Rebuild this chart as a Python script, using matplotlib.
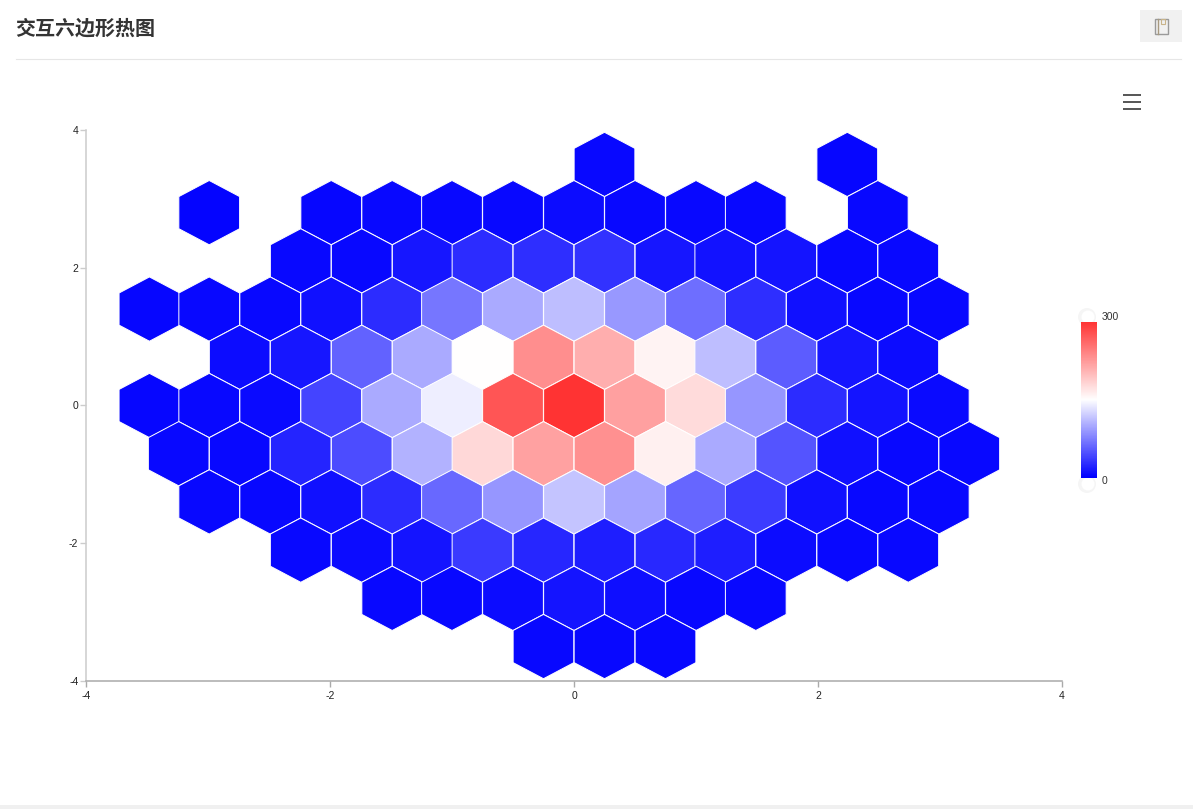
import numpy as np
import matplotlib
matplotlib.use("Agg")
import matplotlib.pyplot as plt
from matplotlib.collections import PolyCollection
from matplotlib.colors import LinearSegmentedColormap, Normalize
from matplotlib.patches import Circle, Rectangle

plt.rcParams['font.family'] = ['Liberation Sans', 'DejaVu Sans']
plt.rcParams['axes.unicode_minus'] = False

W, H = 1193, 809

title = "交互六边形热图"
ticks = [-4, -2, 0, 2, 4]
legend_labels = ["300", "0"]
color_stops = ["#0000ff", "#ffffff", "#ff3333"]
vmin, vmax = 0, 300

# one list per row of the hexagon grid, top to bottom
row_y = [3.5, 2.8, 2.1, 1.4, 0.7, 0.0, -0.7, -1.4, -2.1, -2.8, -3.5]
row_x = [
    [0.25, 2.24],
    [-2.99, -1.99, -1.49, -1, -0.5, 0, 0.5, 1, 1.49, 2.49],
    [-2.24, -1.74, -1.24, -0.75, -0.25, 0.25, 0.75, 1.24, 1.74, 2.24, 2.74],
    [-3.48, -2.99, -2.49, -1.99, -1.49, -1, -0.5, 0, 0.5, 1, 1.49, 1.99, 2.49, 2.99],
    [-2.74, -2.24, -1.74, -1.24, -0.75, -0.25, 0.25, 0.75, 1.24, 1.74, 2.24, 2.74],
    [-3.48, -2.99, -2.49, -1.99, -1.49, -1, -0.5, 0, 0.5, 1, 1.49, 1.99, 2.49, 2.99],
    [-3.24, -2.74, -2.24, -1.74, -1.24, -0.75, -0.25, 0.25, 0.75, 1.24, 1.74, 2.24, 2.74, 3.24],
    [-2.99, -2.49, -1.99, -1.49, -1, -0.5, 0, 0.5, 1, 1.49, 1.99, 2.49, 2.99],
    [-2.24, -1.74, -1.24, -0.75, -0.25, 0.25, 0.75, 1.24, 1.74, 2.24, 2.74],
    [-1.49, -1, -0.5, 0, 0.5, 1, 1.49],
    [-0.25, 0.25, 0.75],
]
row_val = [
    [5, 4],
    [3, 4, 5, 5, 5, 8, 5, 5, 5, 5],
    [5, 5, 14, 26, 28, 30, 13, 11, 12, 5, 5],
    [4, 5, 5, 10, 26, 70, 100, 112, 90, 65, 28, 10, 5, 5],
    [8, 14, 58, 100, 150, 233, 209, 159, 112, 55, 14, 8],
    [4, 5, 6, 40, 100, 140, 275, 300, 220, 176, 88, 26, 12, 6],
    [5, 5, 22, 45, 105, 179, 218, 232, 161, 100, 50, 10, 5, 5],
    [5, 5, 10, 26, 62, 88, 115, 97, 60, 36, 10, 5, 5],
    [5, 8, 12, 34, 23, 18, 24, 18, 8, 5, 5],
    [5, 5, 8, 12, 9, 5, 5],
    [5, 5, 5],
]

cmap = LinearSegmentedColormap.from_list("bwr3", color_stops)
norm = Normalize(vmin, vmax)

fig = plt.figure(figsize=(W / 100, H / 100), dpi=100, facecolor="white")


def px_axes(left, top, right, bottom):
    return fig.add_axes([left / W, 1 - bottom / H, (right - left) / W, (bottom - top) / H])


# page furniture in pixel coordinates
page = fig.add_axes([0, 0, 1, 1])
page.set_xlim(0, W)
page.set_ylim(H, 0)
page.axis("off")
page.text(15.5, 28, title, family=["Noto Sans CJK SC", "DejaVu Sans"], fontsize=14.4,
          fontweight="bold", color="#333333", va="center", ha="left")
page.plot([16, 1181], [58.8, 58.8], color="#e6e6e6", lw=0.8)
page.add_patch(Rectangle((1140, 10), 42, 32, fc="#f1f1f1", ec="none"))
page.add_patch(Rectangle((1154.5, 18.5), 13, 15.5, fc="none", ec="#9a9a9a", lw=1))
page.plot([1158, 1158], [18.5, 34], color="#a89a80", lw=1)
page.add_patch(Rectangle((1160.5, 18.5), 4, 5, fc="none", ec="#c9b48a", lw=0.8))
for y in [95, 102, 109]:
    page.plot([1123, 1141], [y, y], color="#555555", lw=1.4, solid_capstyle="butt")
page.add_patch(Rectangle((0, 805), W, 4, fc="#f0f0f0", ec="none"))

# main chart
ax = px_axes(86, 130, 1062, 681)
ax.patch.set_alpha(0)
ax.set_xlim(-4, 4)
ax.set_ylim(-4, 4)

dx, dy = 0.498, 0.7
verts = []
vals = []
for y, xs, vs in zip(row_y, row_x, row_val):
    for x, v in zip(xs, vs):
        verts.append([(x, y + dy * 2 / 3), (x + dx / 2, y + dy / 3), (x + dx / 2, y - dy / 3),
                      (x, y - dy * 2 / 3), (x - dx / 2, y - dy / 3), (x - dx / 2, y + dy / 3)])
        vals.append(v)
hexes = PolyCollection(verts, array=np.array(vals), cmap=cmap, norm=norm,
                       edgecolors="white", linewidths=0.7)
ax.add_collection(hexes)

ax.set_xticks(ticks)
ax.set_yticks(ticks)
ax.spines["top"].set_visible(False)
ax.spines["right"].set_visible(False)
ax.spines["left"].set_color("#cccccc")
ax.spines["left"].set_linewidth(1.1)
ax.spines["bottom"].set_color("#aaaaaa")
ax.spines["bottom"].set_linewidth(1.1)
ax.tick_params(axis="x", color="#aaaaaa", length=4, width=1, labelsize=7.5,
               labelcolor="#222222", pad=3.5)
ax.tick_params(axis="y", color="#cccccc", length=4, width=1, labelsize=7.5,
               labelcolor="#222222", pad=1.5)

# visual map legend
for cy in [317, 484]:
    page.add_patch(Circle((1087, cy), 9, fc="#f5f5f5", ec="none"))
    page.add_patch(Circle((1088, cy), 6.5, fc="white", ec="none"))
page.text(1102, 317, legend_labels[0], fontsize=7.5, color="#333333", va="center", ha="left")
page.text(1102, 481, legend_labels[1], fontsize=7.5, color="#333333", va="center", ha="left")

bar = px_axes(1081, 322, 1097, 478)
grad = np.linspace(vmax, vmin, 156).reshape(-1, 1)
bar.imshow(grad, cmap=cmap, norm=norm, aspect="auto")
bar.axis("off")

fig.savefig("out.png", dpi=100)
